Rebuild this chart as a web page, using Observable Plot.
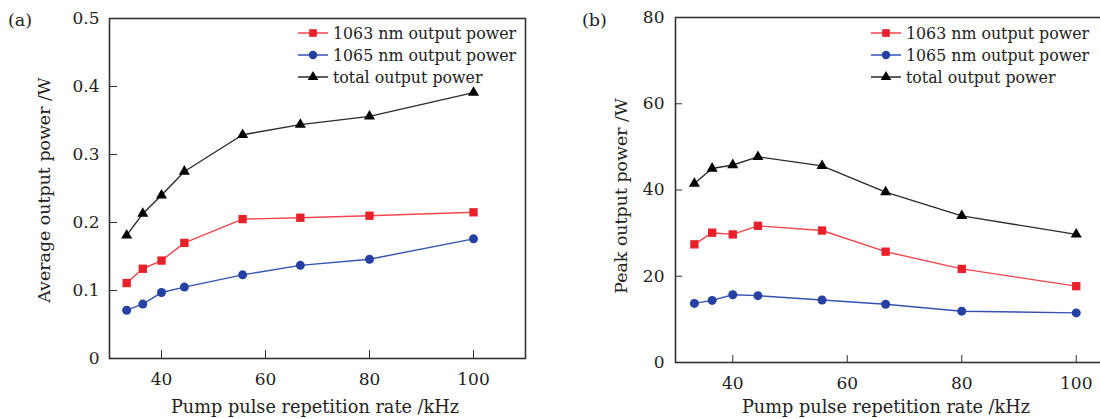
<!DOCTYPE html>
<html>
<head>
<meta charset="utf-8">
<script src="https://cdn.jsdelivr.net/npm/d3@7"></script>
<script src="https://cdn.jsdelivr.net/npm/@observablehq/plot@0.6"></script>
<style>
html, body { margin: 0; padding: 0; background: #fff; overflow: hidden; }
#root { position: relative; width: 1100px; height: 419px; overflow: hidden; background: #fff; }
#root > svg, #root > div { position: absolute; top: 0; }
#overlay { position: absolute; left: 0; top: 0; pointer-events: none; }
</style>
</head>
<body>
<div id="root"></div>
<script>
// ---------- data ----------
const rates = [33.3, 36.4, 40, 44.4, 55.6, 66.7, 80, 100];
const avg1063 = [0.111, 0.132, 0.144, 0.170, 0.205, 0.207, 0.210, 0.215];
const avg1065 = [0.071, 0.080, 0.097, 0.105, 0.123, 0.137, 0.146, 0.176];
const avgTotal = [0.181, 0.213, 0.240, 0.275, 0.329, 0.344, 0.356, 0.391];
const peak1063 = [27.4, 30.1, 29.7, 31.7, 30.6, 25.7, 21.7, 17.7];
const peak1065 = [13.7, 14.4, 15.7, 15.5, 14.5, 13.5, 11.9, 11.5];
const peakTotal = [41.5, 45.0, 45.8, 47.7, 45.6, 39.5, 34.0, 29.7];
const seriesNames = ["1063 nm output power", "1065 nm output power", "total output power"];
const xTicks = [40, 60, 80, 100];
const yTicksA = [0, 0.1, 0.2, 0.3, 0.4, 0.5];
const yTicksB = [0, 20, 40, 60, 80];
const panelTags = ["(a)", "(b)"];
const xTitle = "Pump pulse repetition rate /kHz";
const yTitles = ["Average output power /W", "Peak output power /W"];

// ---------- style ----------
const markerColors = ["#e8202a", "#2441a3", "#000000"];
const lineColors = ["#f2454d", "#3552b2", "#2b2b2b"];
const symbols = ["square", "circle", "triangle"];
const symbolR = [4.7, 4.5, 4.1];
const FONT = "DejaVu Serif";

function rowsFor(series) {
  const out = [];
  series.forEach((vals, s) => rates.forEach((r, i) => out.push({s, series: seriesNames[s], rate: r, value: vals[i]})));
  return out;
}

function makePanel(cfg) {
  const rows = rowsFor(cfg.series);
  const marks = [
    Plot.axisX({ticks: xTicks, tickSize: -cfg.tick, tickPadding: cfg.padX, label: null, fontSize: 17, stroke: "#333", color: "#222"}),
    Plot.axisY({ticks: cfg.yTicks, tickSize: -cfg.tick, tickPadding: cfg.padY, label: null, fontSize: 17, stroke: "#333", color: "#222", tickFormat: d => String(d)}),
    Plot.frame({stroke: "#333", strokeWidth: 1.6}),
    Plot.line(rows, {x: "rate", y: "value", z: "series", stroke: d => lineColors[d.s], strokeWidth: 1.4})
  ];
  seriesNames.forEach((name, s) => {
    marks.push(Plot.dot(rows.filter(d => d.s === s), {x: "rate", y: "value", symbol: () => symbols[s], fill: markerColors[s], stroke: "none", r: symbolR[s]}));
  });
  return Plot.plot({
    width: cfg.width, height: 419,
    marginLeft: cfg.mL, marginRight: cfg.mR, marginTop: cfg.mT, marginBottom: cfg.mB,
    style: {fontFamily: FONT, fontSize: "17px", color: "#222", background: "transparent", overflow: "visible"},
    x: {domain: [30, 110]},
    y: {domain: cfg.yDomain},
    symbol: {type: "identity"},
    marks
  });
}

const root = document.getElementById("root");
const pa = makePanel({series: [avg1063, avg1065, avgTotal], yDomain: [0, 0.5], yTicks: yTicksA,
  width: 550, mL: 109, mR: 25, mT: 18, mB: 61, tick: 8, padX: 22, padY: 18});
pa.style.left = "0px";
root.appendChild(pa);
const pb = makePanel({series: [peak1063, peak1065, peakTotal], yDomain: [0, 80], yTicks: yTicksB,
  width: 600, mL: 125, mR: 17, mT: 17, mB: 57, tick: 7, padX: 21, padY: 18});
pb.style.left = "550px";
root.appendChild(pb);

// ---------- overlay texts and legends ----------
const ov = d3.select(root).append("svg").attr("id", "overlay").attr("width", 1100).attr("height", 419)
  .style("font-family", FONT).style("fill", "#222");

const tagX = [8, 582];
panelTags.forEach((t, i) => ov.append("text").attr("x", tagX[i]).attr("y", 26).attr("font-size", 17.5).text(t));

const xTitleCx = [315, 886];
xTitleCx.forEach(cx => ov.append("text").attr("x", cx).attr("y", 413).attr("text-anchor", "middle").attr("font-size", 17.7).text(xTitle));

const yTitlePos = [[50, 190], [627, 196]];
yTitles.forEach((t, i) => ov.append("text")
  .attr("transform", `translate(${yTitlePos[i][0]},${yTitlePos[i][1]}) rotate(-90)`)
  .attr("text-anchor", "middle").attr("font-size", 17.4).text(t));

const legendX = [298, 871];
const legendRows = [33, 55, 77];
const d3sym = [d3.symbolSquare, d3.symbolCircle, d3.symbolTriangle];
const legSize = [58, 56, 48];
legendX.forEach(lx => {
  seriesNames.forEach((name, s) => {
    const y = legendRows[s];
    ov.append("line").attr("x1", lx).attr("x2", lx + 30).attr("y1", y).attr("y2", y)
      .attr("stroke", lineColors[s]).attr("stroke-width", 1.5);
    ov.append("path").attr("d", d3.symbol(d3sym[s], legSize[s])())
      .attr("transform", `translate(${lx + 15},${y})`).attr("fill", markerColors[s]);
    ov.append("text").attr("x", lx + 35).attr("y", y + 5.5).attr("font-size", 15.8).text(name);
  });
});
</script>
</body>
</html>
